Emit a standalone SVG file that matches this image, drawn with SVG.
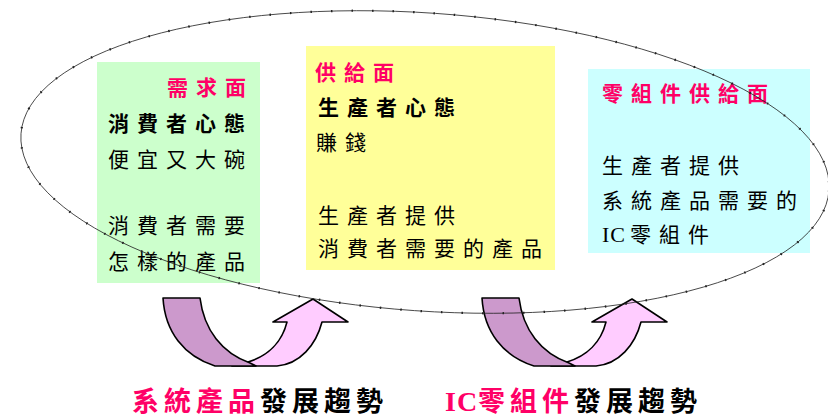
<svg xmlns="http://www.w3.org/2000/svg" width="828" height="419" viewBox="0 0 828 419">
<style>
.t{font-family:"Noto Sans CJK TC","Noto Sans CJK SC",sans-serif;font-size:21px;letter-spacing:8px;fill:#000}
.b{font-weight:bold}
.p{fill:#FF0066;font-weight:bold}
.big{font-family:"Noto Sans CJK TC","Noto Sans CJK SC",sans-serif;font-size:27px;letter-spacing:5px;font-weight:bold;fill:#000}
.lat{font-family:"Liberation Serif",serif}
.dark{fill:#CC99CC;stroke:#000;stroke-width:1.6;stroke-linejoin:round}
.light{fill:#FFCCFF;stroke:#000;stroke-width:1.6;stroke-linejoin:round}
</style>
<defs>
<g id="uarrow">
<path class="light" d="M232,366 L277,366 C300,364 316,345 322,322 L348,322 L313,299 L273,322 L287,322 C282,342 268,356 248,362 Z"/>
<path class="dark" d="M163,298 L200,298 C204,330 222,353 250,363 L256,366 L215,366 C184,356 165,332 163,298 Z"/>
</g>
</defs>
<rect width="828" height="419" fill="#fff"/>

<g id="demand">
<rect x="97" y="62" width="163" height="221" fill="#CCFFCC"/>
<text class="t p" x="167" y="95">需求面</text>
<text class="t b" x="108" y="131">消費者心態</text>
<text class="t" x="108" y="167">便宜又大碗</text>
<text class="t" x="108" y="233">消費者需要</text>
<text class="t" x="108" y="269">怎樣的產品</text>
</g>

<g id="supply">
<rect x="306" y="46" width="249" height="224" fill="#FFFF99"/>
<text class="t p" x="315" y="80">供給面</text>
<text class="t b" x="318" y="115">生產者心態</text>
<text class="t" x="316" y="150">賺錢</text>
<text class="t" x="318" y="223">生產者提供</text>
<text class="t" x="318" y="256">消費者需要的產品</text>
</g>

<g id="component">
<rect x="588" y="69" width="222" height="184" fill="#CCFFFF"/>
<text class="t p" x="602" y="101">零組件供給面</text>
<text class="t" x="602" y="173">生產者提供</text>
<text class="t" x="602" y="208">系統產品需要的</text>
<text class="t" x="602" y="242"><tspan class="lat" style="letter-spacing:1px;font-size:22px">IC</tspan><tspan x="630">零組件</tspan></text>
</g>

<g id="connectors">
<use href="#uarrow"/>
<use href="#uarrow" transform="translate(319,0)"/>
</g>

<g id="scope">
<ellipse cx="425" cy="162" rx="405" ry="149" transform="rotate(4 425 162)" fill="none" stroke="#222" stroke-width="0.8"/>
<ellipse cx="425" cy="162" rx="405" ry="149" transform="rotate(4 425 162)" fill="none" stroke="#222" stroke-width="2.2" stroke-dasharray="1.5 19"/>
</g>

<g id="labels">
<text class="big" x="132" y="411"><tspan fill="#FF0066">系統產品</tspan>發展趨勢</text>
<text class="big" x="445" y="411"><tspan class="lat" fill="#FF0066" style="letter-spacing:1px;font-size:28px">IC</tspan><tspan x="478" fill="#FF0066">零組件</tspan>發展趨勢</text>
</g>
</svg>
